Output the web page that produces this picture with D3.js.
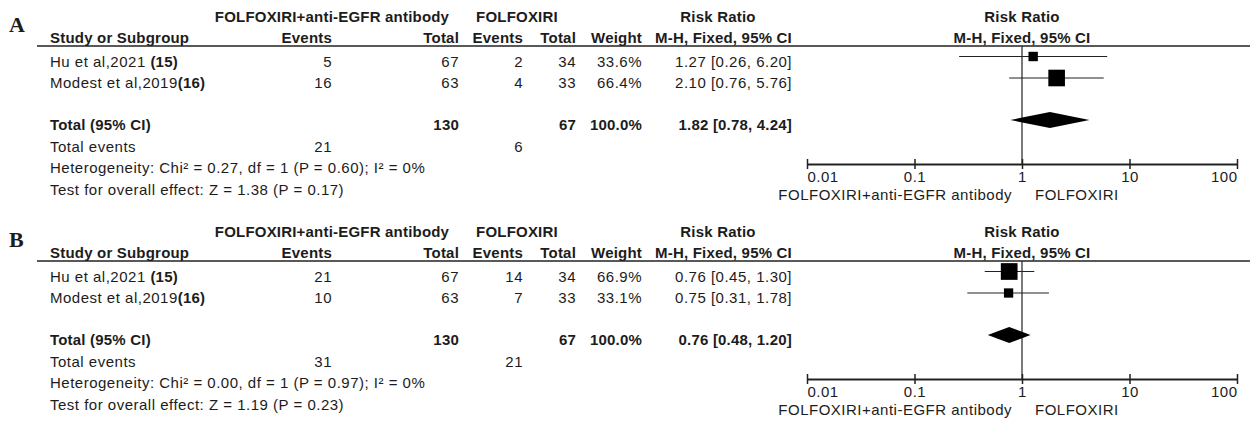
<!DOCTYPE html>
<html>
<head>
<meta charset="utf-8">
<script src="https://cdn.jsdelivr.net/npm/d3@7"></script>
<style>
  body { margin: 0; background: #fff; }
  svg text { font-family: "Liberation Sans", Arial, sans-serif; font-size: 15px; fill: #1c1c1c; letter-spacing: 0.5px; }
  svg text.b { font-weight: bold; letter-spacing: 0.2px; }
</style>
</head>
<body>
<div id="chart"></div>
<script>
// --- data ---
var panelLabels = ["A", "B"];
var studyNames = ["Hu et al,2021 ", "Modest et al,2019"];
var studyRefs = ["(15)", "(16)"];
var expEvents = [[5, 16], [21, 10]];
var expTotal = [67, 63];
var ctlEvents = [[2, 4], [14, 7]];
var ctlTotal = [34, 33];
var weights = [[33.6, 66.4], [66.9, 33.1]];
var rr = [[1.27, 2.10], [0.76, 0.75]];
var rrLo = [[0.26, 0.76], [0.45, 0.31]];
var rrHi = [[6.20, 5.76], [1.30, 1.78]];
var totalExp = 130, totalCtl = 67;
var pooled = [1.82, 0.76];
var pooledLo = [0.78, 0.48];
var pooledHi = [4.24, 1.20];
var totalEventsExp = [21, 31];
var totalEventsCtl = [6, 21];
var heterogeneity = ["Chi\u00b2 = 0.27, df = 1 (P = 0.60); I\u00b2 = 0%", "Chi\u00b2 = 0.00, df = 1 (P = 0.97); I\u00b2 = 0%"];
var overallEffect = ["Z = 1.38 (P = 0.17)", "Z = 1.19 (P = 0.23)"];
var tickValues = [0.01, 0.1, 1, 10, 100];
var tickLabels = ["0.01", "0.1", "1", "10", "100"];
var favoursLeft = "FOLFOXIRI+anti-EGFR antibody";
var favoursRight = "FOLFOXIRI";

var width = 1250, height = 425;
var panelGap = 215;

var svg = d3.select("#chart").append("svg")
	.attr("width", width)
	.attr("height", height);

var x = d3.scaleLog().domain([0.01, 100]).range([807, 1237]);
var boxSize = d3.scaleLinear().domain([0, 100]).range([2, 24]);

// column right edges
var col = {events1: 332, total1: 459, events2: 523, total2: 576, weight: 642, ci: 792};

function fmt2(v) { return d3.format(".2f")(v); }
function ciText(m, lo, hi) { return fmt2(m) + " [" + fmt2(lo) + ", " + fmt2(hi) + "]"; }

function txt(g, xx, yy, s, anchor, bold) {
	return g.append("text")
		.attr("class", bold ? "b" : null)
		.attr("x", xx).attr("y", yy)
		.attr("text-anchor", anchor || "start")
		.text(s);
}

panelLabels.forEach(function(lab, p) {
	var g = svg.append("g").attr("transform", "translate(0," + (p * panelGap) + ")");

	// panel letter
	g.append("text").attr("x", 9).attr("y", 32)
		.style("font-family", "'Liberation Serif', 'DejaVu Serif', serif")
		.style("font-size", "22px")
		.style("letter-spacing", "0px")
		.attr("font-weight", "bold")
		.text(lab);

	// header
	txt(g, 332, 22, "FOLFOXIRI+anti-EGFR antibody", "middle", true);
	txt(g, 517, 22, "FOLFOXIRI", "middle", true);
	txt(g, 718, 22, "Risk Ratio", "middle", true);
	txt(g, 1022, 22, "Risk Ratio", "middle", true);

	txt(g, 50, 43, "Study or Subgroup", "start", true);
	txt(g, col.events1, 43, "Events", "end", true);
	txt(g, col.total1, 43, "Total", "end", true);
	txt(g, col.events2, 43, "Events", "end", true);
	txt(g, col.total2, 43, "Total", "end", true);
	txt(g, col.weight, 43, "Weight", "end", true);
	txt(g, col.ci, 43, "M-H, Fixed, 95% CI", "end", true);
	txt(g, 1022, 43, "M-H, Fixed, 95% CI", "middle", true);

	g.append("line")
		.attr("x1", 37).attr("x2", width)
		.attr("y1", 46).attr("y2", 46)
		.attr("stroke", "#222").attr("stroke-width", 1.6);

	// study rows
	var rowY = [67, 88];
	studyNames.forEach(function(name, i) {
		var y = rowY[i];
		var t = txt(g, 50, y, name);
		t.append("tspan").attr("font-weight", "bold").style("letter-spacing", "0.2px").text(studyRefs[i]);
		txt(g, col.events1, y, expEvents[p][i], "end");
		txt(g, col.total1, y, expTotal[i], "end");
		txt(g, col.events2, y, ctlEvents[p][i], "end");
		txt(g, col.total2, y, ctlTotal[i], "end");
		txt(g, col.weight, y, weights[p][i].toFixed(1) + "%", "end");
		txt(g, col.ci, y, ciText(rr[p][i], rrLo[p][i], rrHi[p][i]), "end");
	});

	// total rows
	txt(g, 50, 130, "Total (95% CI)", "start", true);
	txt(g, col.total1, 130, totalExp, "end", true);
	txt(g, col.total2, 130, totalCtl, "end", true);
	txt(g, col.weight, 130, "100.0%", "end", true);
	txt(g, col.ci, 130, ciText(pooled[p], pooledLo[p], pooledHi[p]), "end", true);

	txt(g, 50, 152, "Total events");
	txt(g, col.events1, 152, totalEventsExp[p], "end");
	txt(g, col.events2, 152, totalEventsCtl[p], "end");
	txt(g, 50, 173, "Heterogeneity: " + heterogeneity[p]);
	txt(g, 50, 195, "Test for overall effect: " + overallEffect[p]);

	// forest plot
	var axisY = 164;
	g.append("line")
		.attr("x1", x(1)).attr("x2", x(1))
		.attr("y1", 46).attr("y2", axisY)
		.attr("stroke", "#222").attr("stroke-width", 1.2);

	var markY = [56.5, 78];
	var studiesData = studyNames.map(function(n, i) {
		return {rr: rr[p][i], lo: rrLo[p][i], hi: rrHi[p][i], w: weights[p][i], y: markY[i]};
	});

	var sg = g.selectAll("g.study").data(studiesData).enter().append("g").attr("class", "study");
	sg.append("line")
		.attr("x1", function(d) { return x(d.lo); })
		.attr("x2", function(d) { return x(d.hi); })
		.attr("y1", function(d) { return d.y; })
		.attr("y2", function(d) { return d.y; })
		.attr("stroke", "#222").attr("stroke-width", 1.2);
	sg.append("rect")
		.attr("x", function(d) { return x(d.rr) - boxSize(d.w) / 2; })
		.attr("y", function(d) { return d.y - boxSize(d.w) / 2; })
		.attr("width", function(d) { return boxSize(d.w); })
		.attr("height", function(d) { return boxSize(d.w); })
		.attr("fill", "#000");

	var dy = 120, dh = 8;
	g.append("path")
		.attr("d", "M" + x(pooledLo[p]) + "," + dy +
			"L" + x(pooled[p]) + "," + (dy - dh) +
			"L" + x(pooledHi[p]) + "," + dy +
			"L" + x(pooled[p]) + "," + (dy + dh) + "Z")
		.attr("fill", "#000");

	// axis: ticks both sides of the line
	var axG = g.append("g").attr("transform", "translate(0," + axisY + ")");
	axG.call(d3.axisBottom(x).tickValues(tickValues).tickSizeInner(5).tickSizeOuter(0)
		.tickPadding(8)
		.tickFormat(function(d, i) { return tickLabels[i]; }));
	axG.call(function(a) {
		a.select(".domain").attr("stroke", "#222").attr("stroke-width", 1.8);
		a.selectAll(".tick line").attr("y1", -5).attr("stroke", "#222").attr("stroke-width", 1.5);
		a.selectAll(".tick text")
			.attr("dy", null).attr("y", 18)
			.attr("text-anchor", function(d, i) { return i === 0 ? "start" : (i === tickValues.length - 1 ? "end" : "middle"); });
	});

	txt(g, 1012, 200, favoursLeft, "end");
	txt(g, 1035, 200, favoursRight, "start");
});
</script>
</body>
</html>
